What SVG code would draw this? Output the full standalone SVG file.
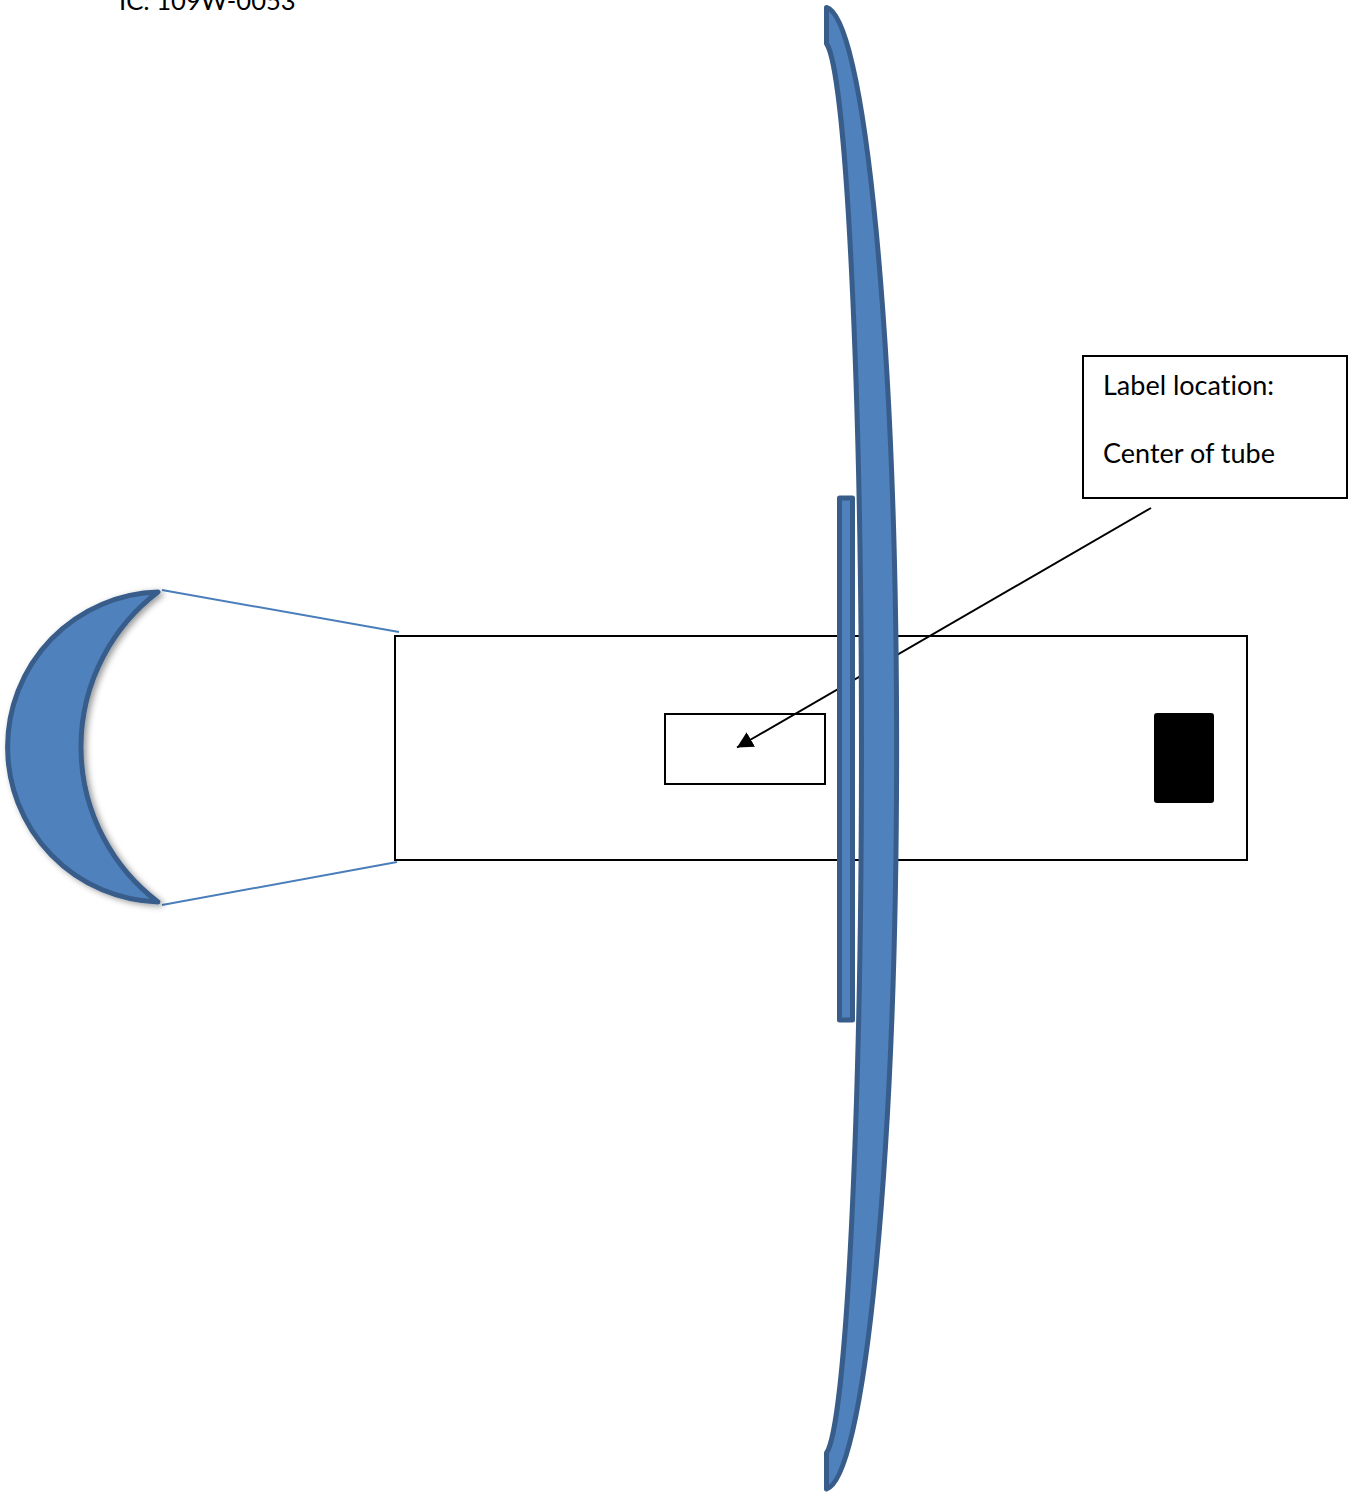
<svg xmlns="http://www.w3.org/2000/svg" width="1348" height="1494" viewBox="0 0 1348 1494">
<defs>
<style>
.blue{fill:#4f81bd;stroke:#385d8a;stroke-width:5;stroke-linejoin:round}
.box{fill:#fff;stroke:#000;stroke-width:2}
.t{font-family:"Lato","Open Sans",sans-serif;font-size:27px;fill:#000;font-variant-ligatures:none}
.lead{stroke:#4a7ebb;stroke-width:2;fill:none}
</style>
<marker id="arr" markerUnits="userSpaceOnUse" markerWidth="18" markerHeight="18" refX="16" refY="8.5" orient="auto"><path d="M0 0L16 8.5L0 17Z" fill="#000"/></marker>
<filter id="shadow" x="-20%" y="-20%" width="140%" height="140%"><feDropShadow dx="3" dy="2" stdDeviation="3" flood-color="#000" flood-opacity="0.4"/></filter>
</defs>
<rect width="1348" height="1494" fill="#fff"/>
<text class="t" x="119" y="10" style="font-size:25.6px">IC: 109W-0053</text>
<g id="tube"><rect class="box" x="395" y="636" width="852" height="224"/></g>
<g id="label-zone"><rect class="box" x="665" y="714" width="160" height="70"/></g>
<g id="black-block"><rect x="1154" y="713" width="60" height="90" rx="3" fill="#000"/></g>
<g id="connectors">
<line class="lead" x1="162" y1="590" x2="399" y2="632"/>
<line class="lead" x1="162" y1="905" x2="397" y2="862"/>
<line x1="1151" y1="508" x2="737" y2="747.5" stroke="#000" stroke-width="2" marker-end="url(#arr)"/>
</g>
<g id="crescent"><path class="blue" filter="url(#shadow)" d="M158 592A155.07 155.07 0 0 0 158 902A194.5 194.5 0 0 1 158 592Z"/></g>
<g id="strip"><rect class="blue" x="839.5" y="498" width="13" height="522"/></g>
<g id="blade"><path class="blue" d="M826.5 7.5A72 741 0 0 1 826.5 1489V1453A38 707 0 0 0 826.5 43.5Z"/></g>
<g id="callout"><rect class="box" x="1083" y="356" width="264" height="142"/>
<text class="t" x="1103" y="394.5">Label location:</text>
<text class="t" x="1103" y="462.5">Center of tube</text></g>
</svg>
